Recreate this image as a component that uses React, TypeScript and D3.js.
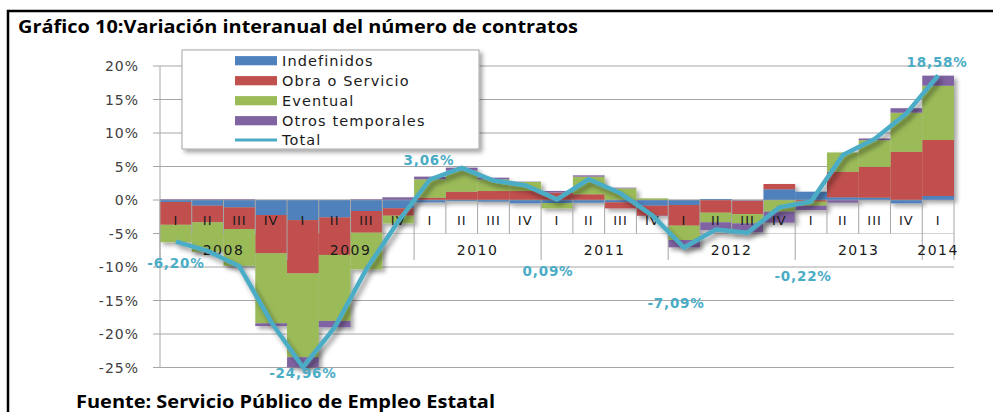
import React from "react";
import * as d3 from "d3";

const quarters = ["I","II","III","IV","I","II","III","IV","I","II","III","IV","I","II","III","IV","I","II","III","IV","I","II","III","IV","I"];
const years = ["2008","2009","2010","2011","2012","2013","2014"];
const yearStart = [0, 4, 8, 12, 16, 20, 24];
const yearLen = [4, 4, 4, 4, 4, 4, 1];

const indefinidos = [-0.3,-0.85,-1.1,-2.24,-3.0,-2.6,-1.64,-1.24,-0.35,-0.15,-0.25,-0.5,-0.45,-0.4,-0.35,-0.85,-0.75,0.15,-0.1,1.6,1.24,0.4,0.35,-0.5,0.6];
const obraServicio = [-3.4,-2.48,-3.23,-5.72,-7.96,-5.6,-3.24,-1.1,0.35,1.24,1.34,1.34,1.1,0.85,-0.9,-1.5,-3.08,-1.89,-2.0,0.79,-0.25,3.83,4.6,7.2,8.36];
const eventual = [-2.6,-4.4,-5.5,-10.45,-12.5,-9.85,-5.47,-1.14,2.74,3.14,1.74,1.35,-0.8,2.63,1.74,0.25,-2.14,-1.44,-1.39,-1.74,-0.6,2.87,3.98,5.83,8.1];
const otrosTemporales = [0.1,0.1,0.1,-0.4,-1.5,-0.95,0.1,0.4,0.4,0.45,0.25,0.05,0.25,0.2,0.1,-0.05,-1.1,-1.15,-1.35,-1.64,-0.65,-0.4,0.25,0.67,1.5];
const total = [-6.20,-7.6,-9.9,-18.2,-24.96,-19.0,-10.3,-3.2,3.06,4.8,2.9,2.2,0.09,3.1,1.0,-2.3,-7.09,-4.4,-4.9,-1.1,-0.22,6.7,9.1,12.9,18.58];
const labeledIdx = [0, 4, 8, 12, 16, 20, 24];
const yTicks = [20, 15, 10, 5, 0, -5, -10, -15, -20, -25];

const seriesNames = ["Indefinidos", "Obra o Servicio", "Eventual", "Otros temporales"];
const seriesKeys = ["ind", "obra", "ev", "otros"];
const seriesColors = ["#4f81bd", "#c0504d", "#9bbb59", "#8064a2"];
const lineColor = "#4bacc6";
// label offsets (style): dx, dy relative to point
const labelOffsets: Record<number, [number, number]> = {
  0: [0, 21.5], 4: [0, 6], 8: [-1, -19.5], 12: [-9, 72], 16: [-8, 55.5], 20: [-8, 74.5], 24: [-1, -14],
};

const fmt = (v: number) => v.toFixed(2).replace(".", ",") + "%";

export default function App() {
  const left = 160, right = 954;
  const x = d3.scaleBand<number>().domain(d3.range(quarters.length)).range([left, right]).padding(0);
  const y = d3.scaleLinear().domain([-25, 20]).range([367.5, 66]);
  const bw = x.bandwidth();
  const cx = (i: number) => (x(i) as number) + bw / 2;

  const table = quarters.map((_, i) => ({
    ind: indefinidos[i], obra: obraServicio[i], ev: eventual[i], otros: otrosTemporales[i],
  }));
  const stacked = d3.stack<any>().keys(seriesKeys).offset(d3.stackOffsetDiverging)(table);

  const line = d3.line<number>().x((_, i) => cx(i)).y((d) => y(d));
  const y0 = y(0);
  const yRowBottom = y(-5);
  const yYearBottom = 260;

  const axisFont = "'DejaVu Sans', Verdana, sans-serif";

  return (
    <div style={{ position: "absolute", left: 0, top: 0 }}>
      <svg width={993} height={412} style={{ display: "block", background: "#fff" }}>
        <defs>
          <filter id="sh" x="-20%" y="-20%" width="140%" height="140%">
            <feDropShadow dx="3" dy="3" stdDeviation="2" floodColor="#000" floodOpacity="0.35" />
          </filter>
          <filter id="shl" x="-10%" y="-10%" width="130%" height="130%">
            <feDropShadow dx="3" dy="4" stdDeviation="2.5" floodColor="#000" floodOpacity="0.4" />
          </filter>
        </defs>

        {/* gridlines */}
        {yTicks.map((t) => (
          <g key={t}>
            <line x1={153} x2={right} y1={y(t)} y2={y(t)} stroke="#a6a6a6" strokeWidth={1} />
            <text x={139} y={y(t)} textAnchor="end" dominantBaseline="central" fontFamily={axisFont}
              fontSize={14} letterSpacing={1} fill="#404040">{t + "%"}</text>
          </g>
        ))}
        <line x1={left} x2={left} y1={y(20)} y2={y(-25)} stroke="#a6a6a6" strokeWidth={1} />

        {/* quarter cells background */}
        {quarters.map((_, i) => (
          <rect key={i} x={x(i)} y={y0} width={bw} height={yRowBottom - y0} fill="#fff" />
        ))}

        {/* bars */}
        <g filter="url(#sh)">
          {stacked.map((s, si) => (
            <g key={si} fill={seriesColors[si]}>
              {s.map((d, i) => {
                const a = y(d[0]), b = y(d[1]);
                return <rect key={i} x={x(i)} y={Math.min(a, b)} width={bw} height={Math.abs(a - b)} />;
              })}
            </g>
          ))}
        </g>

        {/* category axis cells */}
        <line x1={left} x2={right} y1={y0} y2={y0} stroke="#a6a6a6" strokeWidth={1} opacity={0.6} />
        {d3.range(quarters.length + 1).map((i) => {
          const xx = left + bw * i;
          const isYear = yearStart.includes(i) || i === quarters.length;
          return <line key={i} x1={xx} x2={xx} y1={y0} y2={isYear ? yYearBottom : yRowBottom} stroke="#a6a6a6" strokeWidth={1} />;
        })}
        {quarters.map((q, i) => (
          <text key={i} x={cx(i)} y={220.5} textAnchor="middle" dominantBaseline="central" fontFamily={axisFont}
            fontSize={13} letterSpacing={1} fill="#1a1a1a">{q}</text>
        ))}
        {years.map((yr, k) => (
          <text key={yr} x={left + bw * (yearStart[k] + yearLen[k] / 2)} y={250} textAnchor="middle" dominantBaseline="central"
            fontFamily={axisFont} fontSize={14} letterSpacing={1.5} fill="#1a1a1a">{yr}</text>
        ))}

        {/* total line */}
        <path d={line(total) as string} fill="none" stroke={lineColor} strokeWidth={4.5} strokeLinejoin="round" filter="url(#shl)" />

        {/* data labels */}
        {labeledIdx.map((i) => {
          const [dx, dy] = labelOffsets[i];
          return (
            <text key={i} x={cx(i) + dx} y={y(total[i]) + dy} textAnchor="middle" dominantBaseline="central"
              fontFamily={axisFont} fontWeight="bold" fontSize={13.5} letterSpacing={0.8} fill={lineColor}>{fmt(total[i])}</text>
          );
        })}

        {/* legend */}
        <rect x={182} y={50} width={297} height={99} fill="#fff" stroke="#a6a6a6" strokeWidth={1} filter="url(#sh)" />
        {seriesNames.map((n, k) => (
          <g key={n}>
            <rect x={235} y={60.7 + 20 * k - 4.6} width={42} height={9.2} fill={seriesColors[k]} />
            <text x={282} y={60.7 + 20 * k} dominantBaseline="central" fontFamily={axisFont} fontSize={14.5}
              letterSpacing={1.1} fill="#1a1a1a">{n}</text>
          </g>
        ))}
        <line x1={235} x2={277} y1={140} y2={140} stroke={lineColor} strokeWidth={3} />
        <text x={282} y={140} dominantBaseline="central" fontFamily={axisFont} fontSize={14.5} letterSpacing={1.1} fill="#1a1a1a">Total</text>

        {/* title & source */}
        <text x={18} y={33} fontFamily="'Open Sans', sans-serif" fontWeight="bold" fontSize={17.5} textLength={560}
          lengthAdjust="spacingAndGlyphs" fill="#000">Gráfico 10:Variación interanual del número de contratos</text>
        <text x={76} y={408} fontFamily="'Open Sans', sans-serif" fontWeight="bold" fontSize={17} textLength={419}
          lengthAdjust="spacingAndGlyphs" fill="#000">Fuente: Servicio Público de Empleo Estatal</text>

        {/* frame */}
        <rect x={8} y={11} width={1000} height={420} fill="none" stroke="#000" strokeWidth={2.5} />
      </svg>
    </div>
  );
}
